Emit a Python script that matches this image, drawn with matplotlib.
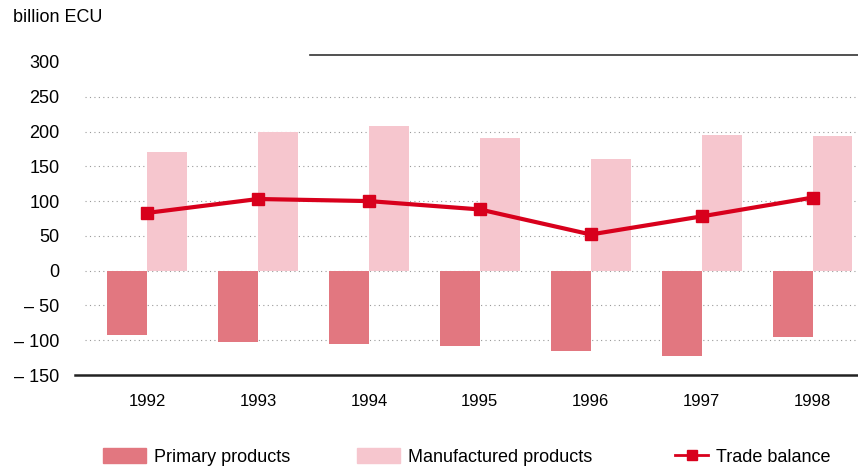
import matplotlib
matplotlib.use("Agg")
import matplotlib.pyplot as plt
import numpy as np
from matplotlib.patches import Patch
from matplotlib.lines import Line2D

plt.rcParams['font.family'] = ['Liberation Sans', 'DejaVu Sans']

years = ["1992", "1993", "1994", "1995", "1996", "1997", "1998"]
primary = [-93, -102, -106, -108, -115, -123, -95]
manufactured = [170, 200, 208, 191, 161, 195, 193]
trade_balance = [83, 103, 100, 88, 52, 78, 105]

yticks = [300, 250, 200, 150, 100, 50, 0, -50, -100, -150]
ytick_labels = ["300", "250", "200", "150", "100", "50", "0", "– 50", "– 100", "– 150"]

c_primary = "#E27780"
c_manuf = "#F6C6CE"
c_line = "#D8001C"

fig = plt.figure(figsize=(8.58, 4.74), dpi=100)
ax = fig.add_axes([75 / 858, 1 - 375 / 474, 783 / 858, (375 - 55) / 474])

x = np.arange(len(years))
w = 0.36
ax.bar(x, primary, width=-w, align="edge", color=c_primary, zorder=2)
ax.bar(x, manufactured, width=w, align="edge", color=c_manuf, zorder=2)
ax.plot(x, trade_balance, color=c_line, lw=3, marker="s", ms=8, zorder=3)

ax.set_xlim(-0.65, 6.41)
ax.set_ylim(-150, 310)
ax.set_yticks(yticks)
ax.set_yticklabels(ytick_labels, fontsize=13)
ax.set_xticks(x)
ax.set_xticklabels(years, fontsize=12)
ax.tick_params(length=0)
ax.tick_params(axis="y", pad=11)
ax.tick_params(axis="x", pad=14)

for v in [250, 200, 150, 100, 50, 0, -50, -100]:
    ax.axhline(v, xmin=10 / 783, color="#9a9a9a", lw=0.8, ls=(0, (1, 3)), zorder=1)

for s in ["left", "right", "top"]:
    ax.spines[s].set_visible(False)
ax.spines["bottom"].set_color("#222222")
ax.spines["bottom"].set_linewidth(1.8)

# short rule across the top
ax.plot([0.30, 1.0], [1.0, 1.0], transform=ax.transAxes, color="#333333",
        lw=1.2, clip_on=False)

fig.text(13 / 858, 1 - 18 / 474, "billion ECU", fontsize=13, va="center", ha="left")

# legend entries placed one by one to match spacing
entries = [
    (Patch(color=c_primary), "Primary products", 103, 2.4),
    (Patch(color=c_manuf), "Manufactured products", 357, 2.4),
    (Line2D([], [], color=c_line, lw=2, marker="s", ms=7), "Trade balance", 675, 1.85),
]
for h, lab, px, hl in entries:
    fig.legend([h], [lab], loc="center left", bbox_to_anchor=(px / 858, 1 - 457 / 474),
               frameon=False, fontsize=13, handlelength=hl, handleheight=0.9,
               handletextpad=0.4, borderpad=0, borderaxespad=0)

fig.savefig("out.png", dpi=100)
